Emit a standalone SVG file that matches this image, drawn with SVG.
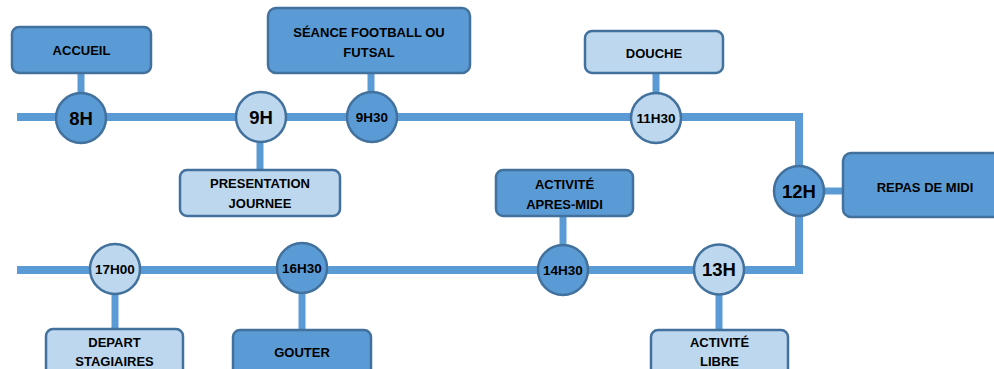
<svg xmlns="http://www.w3.org/2000/svg" width="994" height="369" viewBox="0 0 994 369">
<style>
.ln{stroke:#5b9bd5;fill:none}
.main{stroke-width:8}
.cn{stroke-width:7}
.dk{fill:#5b9bd5;stroke:#41719c;stroke-width:2.5}
.lt{fill:#bdd7ee;stroke:#41719c;stroke-width:2.5}
text{font-family:"Liberation Sans",Arial,sans-serif;font-weight:bold;fill:#000;text-anchor:middle}
.b{font-size:13px}
.big{font-size:18.5px}
.sm{font-size:13.5px}
</style>
<rect width="994" height="369" fill="#fff"/>
<g id="connectors">
<polyline class="ln main" points="17,117 799,117 799,270 17,270"/>
<line class="ln cn" x1="81" y1="73" x2="81" y2="95"/>
<line class="ln cn" x1="371" y1="73" x2="371" y2="95"/>
<line class="ln cn" x1="656" y1="73" x2="656" y2="95"/>
<line class="ln cn" x1="260" y1="140" x2="260" y2="171"/>
<line class="ln cn" x1="822" y1="191" x2="845" y2="191"/>
<line class="ln cn" x1="563" y1="216" x2="563" y2="247"/>
<line class="ln cn" x1="719" y1="292" x2="719" y2="331"/>
<line class="ln cn" x1="115" y1="292" x2="115" y2="331"/>
<line class="ln cn" x1="302" y1="292" x2="302" y2="331"/>
</g>
<g id="n8h"><circle class="dk" cx="81" cy="118" r="25"/><text class="big" x="81" y="124.5">8H</text></g>
<g id="n9h"><circle class="lt" cx="261" cy="117" r="25"/><text class="big" x="261" y="123.5">9H</text></g>
<g id="n9h30"><circle class="dk" cx="372" cy="117" r="25"/><text class="sm" x="372" y="122">9H30</text></g>
<g id="n11h30"><circle class="lt" cx="656" cy="118" r="25"/><text class="sm" x="656" y="123">11H30</text></g>
<g id="n12h"><circle class="dk" cx="799" cy="191" r="25"/><text class="big" x="799" y="197.5">12H</text></g>
<g id="n13h"><circle class="lt" cx="719" cy="269.5" r="25"/><text class="big" x="719" y="276">13H</text></g>
<g id="n14h30"><circle class="dk" cx="563" cy="270" r="25"/><text class="sm" x="563" y="275">14H30</text></g>
<g id="n16h30"><circle class="dk" cx="302" cy="268" r="25"/><text class="sm" x="302" y="273">16H30</text></g>
<g id="n17h00"><circle class="lt" cx="115" cy="269" r="25"/><text class="sm" x="115" y="274">17H00</text></g>
<g id="accueil"><rect class="dk" x="12" y="27" width="139" height="46" rx="7"/><text class="b" x="81.5" y="55">ACCUEIL</text></g>
<g id="seance"><rect class="dk" x="268" y="8" width="202" height="65" rx="8"/><text class="b" x="369" y="37">SÉANCE FOOTBALL OU</text><text class="b" x="369" y="57">FUTSAL</text></g>
<g id="douche"><rect class="lt" x="585" y="31" width="138" height="42" rx="7"/><text class="b" x="654" y="58">DOUCHE</text></g>
<g id="presentation"><rect class="lt" x="180" y="170" width="160" height="46" rx="7"/><text class="b" x="260" y="188">PRESENTATION</text><text class="b" x="260" y="208">JOURNEE</text></g>
<g id="repas"><rect class="dk" x="843" y="153" width="160" height="64" rx="8"/><text class="b" x="925" y="192">REPAS DE MIDI</text></g>
<g id="apresmidi"><rect class="dk" x="496" y="170" width="137" height="46" rx="7"/><text class="b" x="564.5" y="189">ACTIVITÉ</text><text class="b" x="564.5" y="209">APRES-MIDI</text></g>
<g id="libre"><rect class="lt" x="651" y="330" width="137" height="50" rx="7"/><text class="b" x="719.5" y="347">ACTIVITÉ</text><text class="b" x="719.5" y="366">LIBRE</text></g>
<g id="depart"><rect class="lt" x="46" y="329" width="137" height="50" rx="7"/><text class="b" x="114.5" y="347">DEPART</text><text class="b" x="114.5" y="366">STAGIAIRES</text></g>
<g id="gouter"><rect class="dk" x="233" y="330" width="138" height="50" rx="7"/><text class="b" x="302" y="357">GOUTER</text></g>
</svg>
